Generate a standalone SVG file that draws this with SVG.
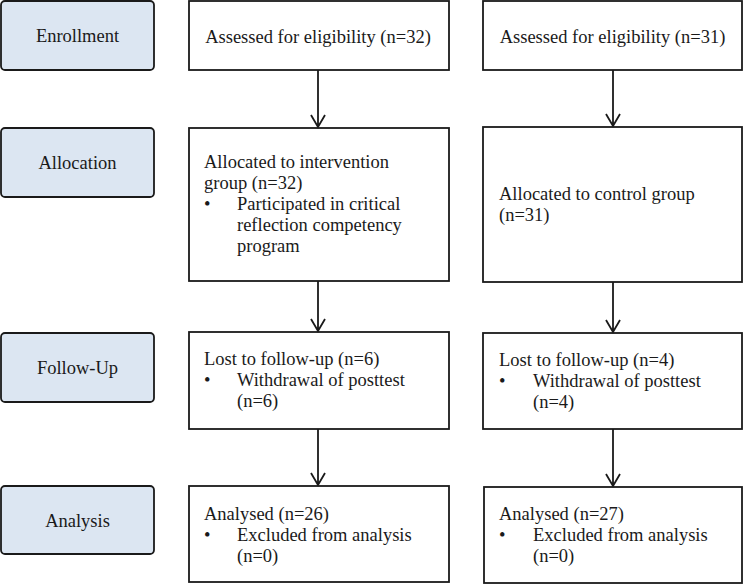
<svg xmlns="http://www.w3.org/2000/svg" width="744" height="584" viewBox="0 0 744 584">
<rect width="744" height="584" fill="#ffffff"/>
<g id="enrollment-label"><rect fill="#dce6f2" stroke="#1a1a1a" stroke-width="1.8" x="1" y="1" width="153" height="69" rx="4"/><text font-family="Liberation Serif" font-size="18.5" fill="#1a1a1a" text-anchor="middle" x="77.5" y="42">Enrollment</text></g>
<g id="allocation-label"><rect fill="#dce6f2" stroke="#1a1a1a" stroke-width="1.8" x="1" y="128" width="153" height="69" rx="4"/><text font-family="Liberation Serif" font-size="18.5" fill="#1a1a1a" text-anchor="middle" x="77.5" y="169">Allocation</text></g>
<g id="followup-label"><rect fill="#dce6f2" stroke="#1a1a1a" stroke-width="1.8" x="1" y="333" width="153" height="69" rx="4"/><text font-family="Liberation Serif" font-size="18.5" fill="#1a1a1a" text-anchor="middle" x="77.5" y="374">Follow-Up</text></g>
<g id="analysis-label"><rect fill="#dce6f2" stroke="#1a1a1a" stroke-width="1.8" x="1" y="486" width="153" height="68" rx="4"/><text font-family="Liberation Serif" font-size="18.5" fill="#1a1a1a" text-anchor="middle" x="77.5" y="527">Analysis</text></g>

<g id="assessed-int"><rect fill="#ffffff" stroke="#1a1a1a" stroke-width="1.8" x="189" y="1" width="260" height="69"/><text font-family="Liberation Serif" font-size="18.5" fill="#1a1a1a" text-anchor="middle" x="318" y="43">Assessed for eligibility (n=32)</text></g>
<g id="assessed-ctrl"><rect fill="#ffffff" stroke="#1a1a1a" stroke-width="1.8" x="483" y="1" width="259" height="69"/><text font-family="Liberation Serif" font-size="18.5" fill="#1a1a1a" text-anchor="middle" x="612.5" y="43">Assessed for eligibility (n=31)</text></g>

<g id="alloc-int"><rect fill="#ffffff" stroke="#1a1a1a" stroke-width="1.8" x="189" y="128" width="260" height="153"/>
<text font-family="Liberation Serif" font-size="18.5" fill="#1a1a1a" x="204" y="168">Allocated to intervention</text>
<text font-family="Liberation Serif" font-size="18.5" fill="#1a1a1a" x="204" y="189">group (n=32)</text>
<text font-family="Liberation Serif" font-size="18.5" fill="#1a1a1a" x="204" y="210">•</text>
<text font-family="Liberation Serif" font-size="18.5" fill="#1a1a1a" x="237" y="210">Participated in critical</text>
<text font-family="Liberation Serif" font-size="18.5" fill="#1a1a1a" x="237" y="231">reflection competency</text>
<text font-family="Liberation Serif" font-size="18.5" fill="#1a1a1a" x="237" y="252">program</text></g>
<g id="alloc-ctrl"><rect fill="#ffffff" stroke="#1a1a1a" stroke-width="1.8" x="483" y="127" width="259" height="155"/>
<text font-family="Liberation Serif" font-size="18.5" fill="#1a1a1a" x="499" y="200">Allocated to control group</text>
<text font-family="Liberation Serif" font-size="18.5" fill="#1a1a1a" x="499" y="221">(n=31)</text></g>

<g id="follow-int"><rect fill="#ffffff" stroke="#1a1a1a" stroke-width="1.8" x="189" y="332" width="260" height="97"/>
<text font-family="Liberation Serif" font-size="18.5" fill="#1a1a1a" x="204" y="365">Lost to follow-up (n=6)</text>
<text font-family="Liberation Serif" font-size="18.5" fill="#1a1a1a" x="204" y="386">•</text>
<text font-family="Liberation Serif" font-size="18.5" fill="#1a1a1a" x="237" y="386">Withdrawal of posttest</text>
<text font-family="Liberation Serif" font-size="18.5" fill="#1a1a1a" x="237" y="407">(n=6)</text></g>
<g id="follow-ctrl"><rect fill="#ffffff" stroke="#1a1a1a" stroke-width="1.8" x="483" y="333" width="259" height="96"/>
<text font-family="Liberation Serif" font-size="18.5" fill="#1a1a1a" x="499" y="366">Lost to follow-up (n=4)</text>
<text font-family="Liberation Serif" font-size="18.5" fill="#1a1a1a" x="499" y="387">•</text>
<text font-family="Liberation Serif" font-size="18.5" fill="#1a1a1a" x="533" y="387">Withdrawal of posttest</text>
<text font-family="Liberation Serif" font-size="18.5" fill="#1a1a1a" x="533" y="408">(n=4)</text></g>

<g id="analysis-int"><rect fill="#ffffff" stroke="#1a1a1a" stroke-width="1.8" x="189" y="486" width="260" height="96"/>
<text font-family="Liberation Serif" font-size="18.5" fill="#1a1a1a" x="204" y="520">Analysed (n=26)</text>
<text font-family="Liberation Serif" font-size="18.5" fill="#1a1a1a" x="204" y="541">•</text>
<text font-family="Liberation Serif" font-size="18.5" fill="#1a1a1a" x="237" y="541">Excluded from analysis</text>
<text font-family="Liberation Serif" font-size="18.5" fill="#1a1a1a" x="237" y="562">(n=0)</text></g>
<g id="analysis-ctrl"><rect fill="#ffffff" stroke="#1a1a1a" stroke-width="1.8" x="484" y="487" width="258" height="96"/>
<text font-family="Liberation Serif" font-size="18.5" fill="#1a1a1a" x="499" y="520">Analysed (n=27)</text>
<text font-family="Liberation Serif" font-size="18.5" fill="#1a1a1a" x="499" y="541">•</text>
<text font-family="Liberation Serif" font-size="18.5" fill="#1a1a1a" x="533" y="541">Excluded from analysis</text>
<text font-family="Liberation Serif" font-size="18.5" fill="#1a1a1a" x="533" y="562">(n=0)</text></g>

<g id="connectors" stroke="#1a1a1a" stroke-width="1.8" fill="none">
<path d="M318,70 V127 M311,115 L318,127 L325,115"/>
<path d="M318,281 V331 M311,319 L318,331 L325,319"/>
<path d="M318,429 V485 M311,473 L318,485 L325,473"/>
<path d="M613,70 V126 M606,114 L613,126 L620,114"/>
<path d="M613,282 V332 M606,320 L613,332 L620,320"/>
<path d="M613,429 V486 M606,474 L613,486 L620,474"/>
</g>
</svg>
